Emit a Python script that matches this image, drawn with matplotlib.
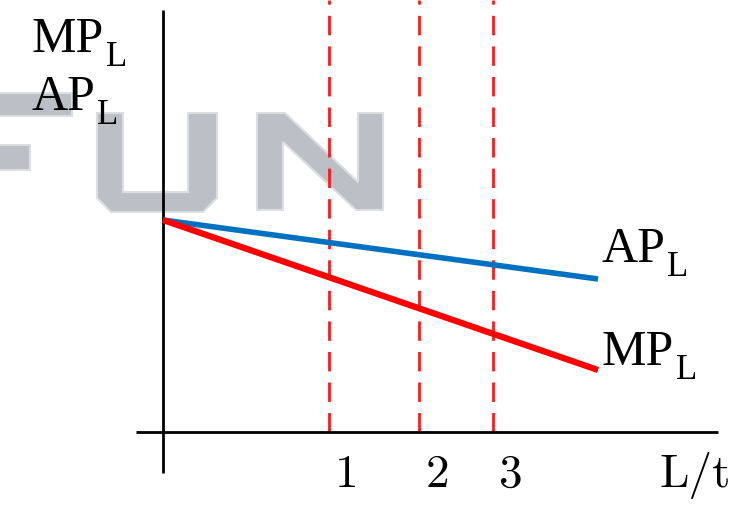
import matplotlib
matplotlib.use("Agg")
import matplotlib.pyplot as plt
from matplotlib.patches import Polygon
from matplotlib import transforms

# Labour input (L/t) and product curves
L = [0.0, 4.35]
AP = [2.12, 1.53]
MP = [2.12, 0.62]
marks = [1.66, 2.56, 3.30]
mark_labels = ["1", "2", "3"]

W, H = 730, 505
fig = plt.figure(figsize=(W / 100, H / 100), dpi=100)
ax = fig.add_axes([0, 0, 1, 1])
ax.set_xlim(-1.63, 5.67)
ax.set_ylim(-0.73, 4.32)
ax.axis("off")

# pixel transform (origin top-left) for the background logo
px = transforms.Affine2D().scale(1 / W, -1 / H).translate(0, 1) + fig.transFigure

logo_fc = "#bcbfc5"
logo_ec = "#dcdee2"
shapes = [
    # F (clipped at left edge)
    [(-5, 93), (72, 93), (72, 116), (-5, 116)],
    [(-5, 145), (30, 145), (30, 170), (-5, 170)],
    # U with rounded bottom
    [(97, 113), (123, 113), (123, 192), (188, 192), (188, 113), (217, 113),
     (217, 198), (203, 212), (111, 212), (97, 198)],
    # N
    [(257, 210), (257, 113), (285, 113), (358, 182), (358, 113), (383, 113),
     (383, 210), (356, 210), (283, 142), (283, 210)],
]
for pts in shapes:
    ax.add_patch(Polygon(pts, closed=True, transform=px, facecolor=logo_fc,
                         edgecolor=logo_ec, linewidth=1.5, zorder=0))

# axes lines
ax.plot([0, 0], [-0.41, 4.22], color="black", lw=2, zorder=3, solid_capstyle="butt")
ax.plot([-0.27, 5.55], [0, 0], color="black", lw=2, zorder=3, solid_capstyle="butt")

# dashed guides
for m in marks:
    ax.plot([m, m], [0, 4.32], color="#ff1a1a", lw=2, ls=(0, (7, 4)), zorder=2)

# curves
ax.plot(L, AP, color="#0070c0", lw=4, zorder=4, solid_capstyle="butt")
ax.plot(L, MP, color="#ff0000", lw=4.5, zorder=4, solid_capstyle="butt")


def sub_label(x, y, main, sub):
    t = ax.text(x, y, main, fontsize=36, family="Liberation Serif",
                ha="left", va="baseline", zorder=5)
    ax.annotate(sub, xy=(1, 0), xycoords=t, xytext=(1, -2),
                textcoords="offset points", fontsize=25,
                family="Liberation Serif", ha="left", va="baseline", zorder=5)


sub_label(-1.31, 3.80, "MP", "L")
sub_label(-1.31, 3.22, "AP", "L")
sub_label(4.39, 1.70, "AP", "L")
sub_label(4.39, 0.67, "MP", "L")

tick_kw = dict(fontsize=34, family="cmr10", ha="center", va="baseline")
for m, t in zip(marks, mark_labels):
    ax.text(m + 0.18, -0.55, t, **tick_kw)
ax.text(5.32, -0.55, "L/t", **tick_kw)

fig.savefig("out.png", dpi=100)
